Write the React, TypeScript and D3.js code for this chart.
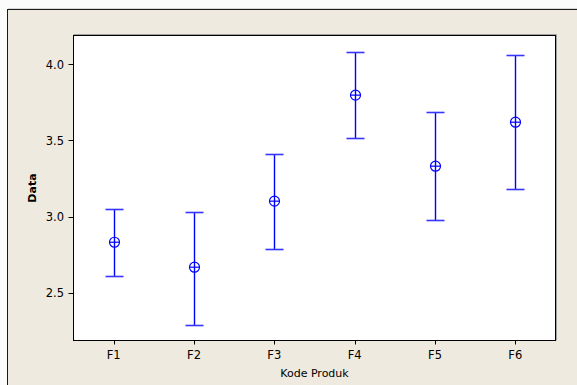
import React from "react";
import * as d3 from "d3";

const categories = ["F1", "F2", "F3", "F4", "F5", "F6"];
const means = [2.831, 2.667, 3.101, 3.798, 3.331, 3.62];
const upper = [3.051, 3.031, 3.414, 4.084, 3.689, 4.061];
const lower = [2.612, 2.289, 2.785, 3.513, 2.974, 3.184];
const yTicks = [2.5, 3.0, 3.5, 4.0];
const xTitle = "Kode Produk";
const yTitle = "Data";

const W = 577;
const H = 385;
const plot = { left: 73.5, right: 555.5, top: 35.5, bottom: 340.5 };
const BLUE = "#0000ff";
const FONT = "'DejaVu Sans', Verdana, sans-serif";

export default function App() {
  const x = d3
    .scalePoint<string>()
    .domain(categories)
    .range([plot.left, plot.right])
    .padding(0.5);
  const y = d3.scaleLinear().domain([2.185, 4.19]).range([plot.bottom, plot.top]);
  const fmt = d3.format(".1f");
  const capHalf = 9;
  const r = 5;

  return (
    <div style={{ position: "absolute", left: 0, top: 0, width: W, height: H }}>
      <svg width={W} height={H} style={{ display: "block" }}>
        <rect x={0} y={0} width={W} height={H} fill="#fbfbfb" />
        <rect x={7.5} y={9.5} width={W + 20} height={H + 20} fill="#eeeae0" stroke="#1a1a1a" strokeWidth={1} />
        <line x1={8} x2={W} y1={8.5} y2={8.5} stroke="#d8d8d8" />
        <rect
          x={plot.left}
          y={plot.top}
          width={plot.right - plot.left}
          height={plot.bottom - plot.top}
          fill="#ffffff"
          stroke="#000000"
          strokeWidth={1}
        />
        <line x1={plot.left} x2={plot.right + 1} y1={plot.top - 1} y2={plot.top - 1} stroke="#a0a0a0" />
        <line x1={plot.right + 1} x2={plot.right + 1} y1={plot.top - 1} y2={plot.bottom} stroke="#a0a0a0" />

        {yTicks.map((t) => (
          <g key={t}>
            <line x1={plot.left - 5} x2={plot.left} y1={Math.round(y(t)) + 0.5} y2={Math.round(y(t)) + 0.5} stroke="#000" />
            <text x={64} y={y(t) + 4.3} textAnchor="end" fontFamily={FONT} fontSize={11.5} fill="#000">
              {fmt(t)}
            </text>
          </g>
        ))}

        {categories.map((c) => (
          <g key={c}>
            <line
              x1={Math.round(x(c)!) + 0.5}
              x2={Math.round(x(c)!) + 0.5}
              y1={plot.bottom}
              y2={plot.bottom + 4}
              stroke="#000"
            />
            <text x={x(c)!} y={359} textAnchor="middle" fontFamily={FONT} fontSize={11.5} fill="#000">
              {c}
            </text>
          </g>
        ))}

        <text x={(plot.left + plot.right) / 2} y={376.5} textAnchor="middle" fontFamily={FONT} fontSize={11} fill="#000">
          {xTitle}
        </text>
        <text
          transform={`translate(35.5, ${(plot.top + plot.bottom) / 2}) rotate(-90)`}
          textAnchor="middle"
          fontFamily={FONT}
          fontSize={11}
          fontWeight="bold"
          fill="#000"
        >
          {yTitle}
        </text>

        {categories.map((c, i) => {
          const cx = Math.round(x(c)!) + 0.5;
          const yu = Math.round(y(upper[i])) + 0.5;
          const yl = Math.round(y(lower[i])) + 0.5;
          const ym = y(means[i]);
          return (
            <g key={c} fill="none">
              <line x1={cx} x2={cx} y1={yu} y2={yl} stroke={BLUE} strokeWidth={1.4} />
              <line x1={cx - capHalf} x2={cx + capHalf} y1={yu} y2={yu} strokeWidth={1.6} stroke="#3535ff" />
              <line x1={cx - capHalf} x2={cx + capHalf} y1={yl} y2={yl} strokeWidth={1.6} stroke="#3535ff" />
              <circle cx={cx} cy={ym} r={r} stroke={BLUE} strokeWidth={1.2} />
              <line x1={cx - r} x2={cx + r} y1={ym} y2={ym} stroke={BLUE} strokeWidth={1.2} />
            </g>
          );
        })}
      </svg>
    </div>
  );
}
